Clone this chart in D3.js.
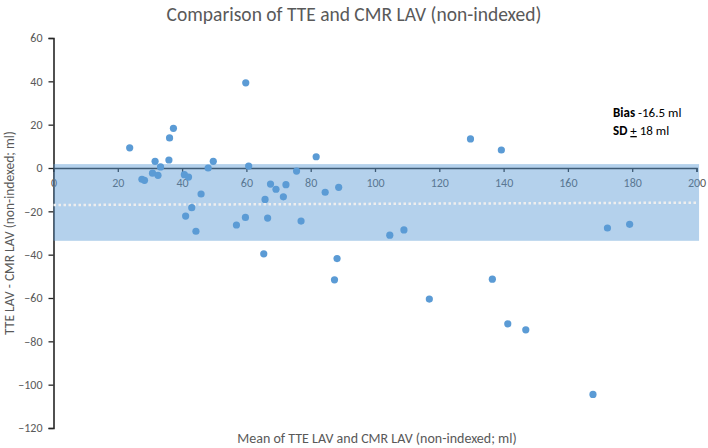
<!DOCTYPE html>
<html>
<head>
<meta charset="utf-8">
<script src="https://cdn.jsdelivr.net/npm/d3@7"></script>
<style>
  html, body { margin: 0; padding: 0; background: #fff; }
  svg { display: block; font-family: Carlito, Calibri, Lato, sans-serif; }
</style>
</head>
<body>
<svg id="chart" width="708" height="448"></svg>
<script>
// ---- Data ----
const meanValues = [23.7, 27.5, 28.3, 30.8, 31.6, 32.5, 33.3, 35.9, 36.1, 37.3, 40.7, 41.1, 42.0, 43.0, 44.3, 45.9, 48.1, 49.7, 56.9, 59.7, 59.8, 60.7, 65.4, 65.8, 66.6, 67.5, 69.2, 71.5, 72.3, 75.6, 77.0, 81.7, 84.5, 87.4, 88.2, 88.7, 104.6, 109.0, 116.9, 129.7, 136.5, 139.3, 141.3, 146.9, 167.8, 172.3, 179.2];
const diffValues = [9.3, -5.2, -5.7, -2.4, 3.1, -3.4, 0.5, 3.7, 13.9, 18.3, -3.1, -22.2, -4.2, -18.3, -29.2, -12.0, 0, 3.1, -26.3, -22.8, 39.3, 0.9, -39.6, -14.5, -23.1, -7.4, -9.8, -13.3, -7.7, -1.4, -24.5, 5.2, -11.2, -51.6, -41.8, -8.9, -31.0, -28.6, -60.5, 13.4, -51.3, 8.3, -71.9, -74.7, -104.5, -27.7, -26.0];
const xTicks = [0, 20, 40, 60, 80, 100, 120, 140, 160, 180, 200];
const yTicks = [-120, -100, -80, -60, -40, -20, 0, 20, 40, 60];
const bandLimits = [1.8, -33.6];          // shaded agreement band (upper, lower)
const bandExtent = [0, 200.8];
const trendX = [0, 200];
const trendY = [-17.1, -16.0];
const titleText = "Comparison of TTE and CMR LAV (non-indexed)";
const xLabel = "Mean of TTE LAV and CMR LAV (non-indexed; ml)";
const yLabel = "TTE LAV - CMR LAV (non-indexed; ml)";

// ---- Layout ----
const svg = d3.select("#chart");
const W = 708, H = 448;
const m = { left: 53.5, right: 11.5, top: 38, bottom: 20 };

const x = d3.scaleLinear().domain([0, 200]).range([m.left, W - m.right]);
const y = d3.scaleLinear().domain([-120, 60]).range([H - m.bottom, m.top]);

// Title
svg.append("text")
  .attr("x", 354).attr("y", 21)
  .attr("text-anchor", "middle")
  .attr("font-size", 19.5).attr("fill", "#595959")
  .text(titleText);

// Y axis
const yAxis = svg.append("g")
  .attr("transform", `translate(${x(0)},0)`)
  .call(d3.axisLeft(y).tickValues(yTicks).tickSize(5).tickPadding(6).tickFormat(d3.format("d")));
yAxis.select(".domain").attr("stroke", "#262626").attr("stroke-width", 1.6);
yAxis.selectAll(".tick line").attr("stroke", "#262626").attr("stroke-width", 1.3);
yAxis.selectAll(".tick text").attr("fill", "#595959").attr("font-size", 12)
  .attr("font-family", "Carlito, Calibri, Lato, sans-serif");

// X axis at y=0
const xAxis = svg.append("g")
  .attr("transform", `translate(0,${y(0)})`)
  .call(d3.axisBottom(x).tickValues(xTicks).tickSize(4).tickPadding(6).tickFormat(d3.format("d")));
xAxis.select(".domain").attr("stroke", "#262626").attr("stroke-width", 1.6);
xAxis.selectAll(".tick line").attr("stroke", "#262626").attr("stroke-width", 1.3);
xAxis.selectAll(".tick text").attr("fill", "#595959").attr("font-size", 12)
  .attr("font-family", "Carlito, Calibri, Lato, sans-serif");

// Band (semi-transparent overlay)
svg.append("rect")
  .attr("x", x(bandExtent[0]))
  .attr("y", y(bandLimits[0]))
  .attr("width", x(bandExtent[1]) - x(bandExtent[0]))
  .attr("height", y(bandLimits[1]) - y(bandLimits[0]))
  .attr("fill", "#5b9bd5").attr("fill-opacity", 0.46);

// Dotted trend line
svg.append("line")
  .attr("x1", x(trendX[0])).attr("y1", y(trendY[0]))
  .attr("x2", x(trendX[1])).attr("y2", y(trendY[1]))
  .attr("stroke", "#eeeeee").attr("stroke-width", 2.5)
  .attr("stroke-dasharray", "2.5,2.5");

// Points
svg.append("g").selectAll("circle")
  .data(meanValues.map((v, i) => [v, diffValues[i]]))
  .join("circle")
  .attr("cx", d => x(d[0]))
  .attr("cy", d => y(d[1]))
  .attr("r", 3.6)
  .attr("fill", "#5b9bd5");

// Annotation
const ann = svg.append("g").attr("font-size", 13).attr("fill", "#000");
const t1 = ann.append("text").attr("x", 613).attr("y", 117);
t1.append("tspan").attr("font-weight", "bold").text("Bias");
t1.append("tspan").text(" -16.5 ml");
const t2 = ann.append("text").attr("x", 613).attr("y", 135);
t2.append("tspan").attr("font-weight", "bold").text("SD");
t2.append("tspan").text(" ");
t2.append("tspan").attr("text-decoration", "underline").text("+");
t2.append("tspan").text(" 18 ml");

// Axis titles
svg.append("text")
  .attr("x", 377).attr("y", 443)
  .attr("text-anchor", "middle")
  .attr("font-size", 14).attr("fill", "#595959")
  .text(xLabel);

svg.append("text")
  .attr("transform", `translate(14,${(y(60) + y(-120)) / 2}) rotate(-90)`)
  .attr("text-anchor", "middle")
  .attr("font-size", 13.5).attr("fill", "#595959")
  .text(yLabel);
</script>
</body>
</html>
